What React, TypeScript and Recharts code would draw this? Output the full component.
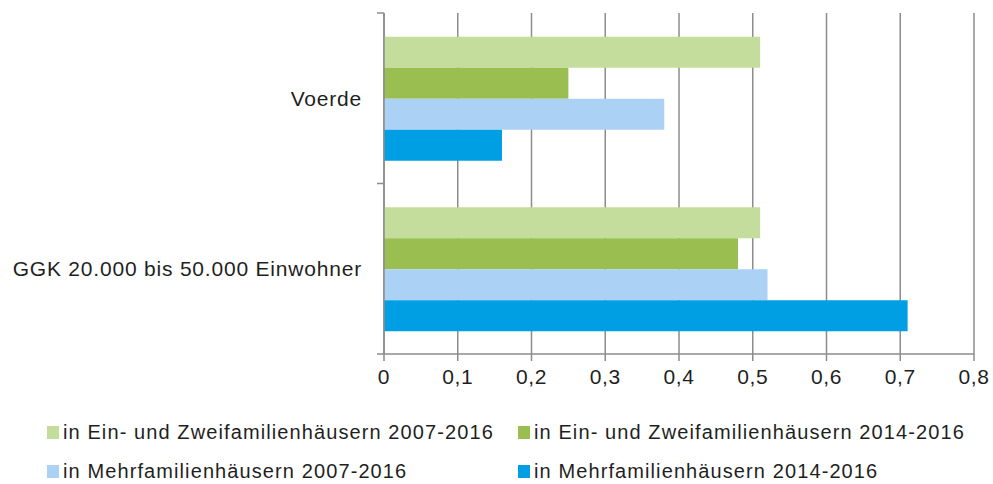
import React from 'react';
import { BarChart, Bar, XAxis, YAxis, CartesianGrid } from 'recharts';

const categories = ['Voerde', 'GGK 20.000 bis 50.000 Einwohner'];
const seriesNames = [
  'in Ein- und Zweifamilienhäusern 2007-2016',
  'in Ein- und Zweifamilienhäusern 2014-2016',
  'in Mehrfamilienhäusern 2007-2016',
  'in Mehrfamilienhäusern 2014-2016',
];
const einZwei0716 = [0.51, 0.51];
const einZwei1416 = [0.25, 0.48];
const mehr0716 = [0.38, 0.52];
const mehr1416 = [0.16, 0.71];
const xTicks = [0, 0.1, 0.2, 0.3, 0.4, 0.5, 0.6, 0.7, 0.8];
const colors = ['#C4DD9C', '#9BBE51', '#ABD2F4', '#009FE3'];
const keys = ['s0', 's1', 's2', 's3'];

const data = categories.map((name, i) => ({
  name,
  s0: einZwei0716[i],
  s1: einZwei1416[i],
  s2: mehr0716[i],
  s3: mehr1416[i],
}));

const W = 993;
const H = 484;
const M = { top: 13, right: 19, bottom: 90, left: 0 };
const Y_W = 384;
const X_H = 40;
const plotH = H - M.top - M.bottom - X_H;
const band = plotH / categories.length;
const FONT = '"Liberation Sans", Arial, sans-serif';
const GRID = '#8c8c8c';
const TXT = '#1f1f1f';

const YTick = (props: any) => {
  const { y, payload, index } = props;
  const axisX = Y_W;
  const top = y - band / 2;
  const bottom = y + band / 2;
  return (
    <g>
      <line x1={axisX - 7} x2={axisX} y1={top} y2={top} stroke={GRID} strokeWidth={1.5} />
      {index === categories.length - 1 && (
        <line x1={axisX - 7} x2={axisX} y1={bottom} y2={bottom} stroke={GRID} strokeWidth={1.5} />
      )}
      <text
        x={axisX - 22}
        y={y}
        textAnchor="end"
        dominantBaseline="central"
        fontFamily={FONT}
        fontSize={21}
        letterSpacing={0.8}
        fill={TXT}
      >
        {payload.value}
      </text>
    </g>
  );
};

const legendPos = [
  { left: 47, top: 424 },
  { left: 518, top: 424 },
  { left: 47, top: 463 },
  { left: 518, top: 463 },
];

export default function App() {
  return (
    <div style={{ position: 'absolute', left: 0, top: 0, width: W, height: H, background: '#fff' }}>
      <BarChart
        width={W}
        height={H}
        data={data}
        layout="vertical"
        margin={M}
        barCategoryGap="14%"
        barGap={0}
      >
        <CartesianGrid horizontal={false} vertical={true} stroke={GRID} strokeWidth={1.5} />
        <XAxis
          type="number"
          domain={[0, 0.8]}
          ticks={xTicks}
          height={X_H}
          tickSize={7}
          tickMargin={8}
          interval={0}
          axisLine={{ stroke: GRID, strokeWidth: 1.5 }}
          tickLine={{ stroke: GRID, strokeWidth: 1.5 }}
          tickFormatter={(v: number) => String(v).replace('.', ',')}
          tick={{ fontFamily: FONT, fontSize: 21, fill: TXT, letterSpacing: 0.6 }}
        />
        <YAxis
          type="category"
          dataKey="name"
          width={Y_W}
          axisLine={{ stroke: GRID, strokeWidth: 1.5 }}
          tickLine={false}
          tick={<YTick />}
          interval={0}
        />
        {keys.map((k, i) => (
          <Bar key={k} dataKey={k} name={seriesNames[i]} fill={colors[i]} isAnimationActive={false} />
        ))}
      </BarChart>
      {seriesNames.map((n, i) => (
        <div
          key={n}
          style={{
            position: 'absolute',
            left: legendPos[i].left,
            top: legendPos[i].top,
            display: 'flex',
            alignItems: 'center',
            fontFamily: FONT,
            fontSize: 20,
            letterSpacing: 1.1,
            color: TXT,
            whiteSpace: 'nowrap',
            lineHeight: '16px',
          }}
        >
          <span style={{ display: 'inline-block', width: 12, height: 13, background: colors[i], marginRight: 4 }} />
          <span>{n}</span>
        </div>
      ))}
    </div>
  );
}
